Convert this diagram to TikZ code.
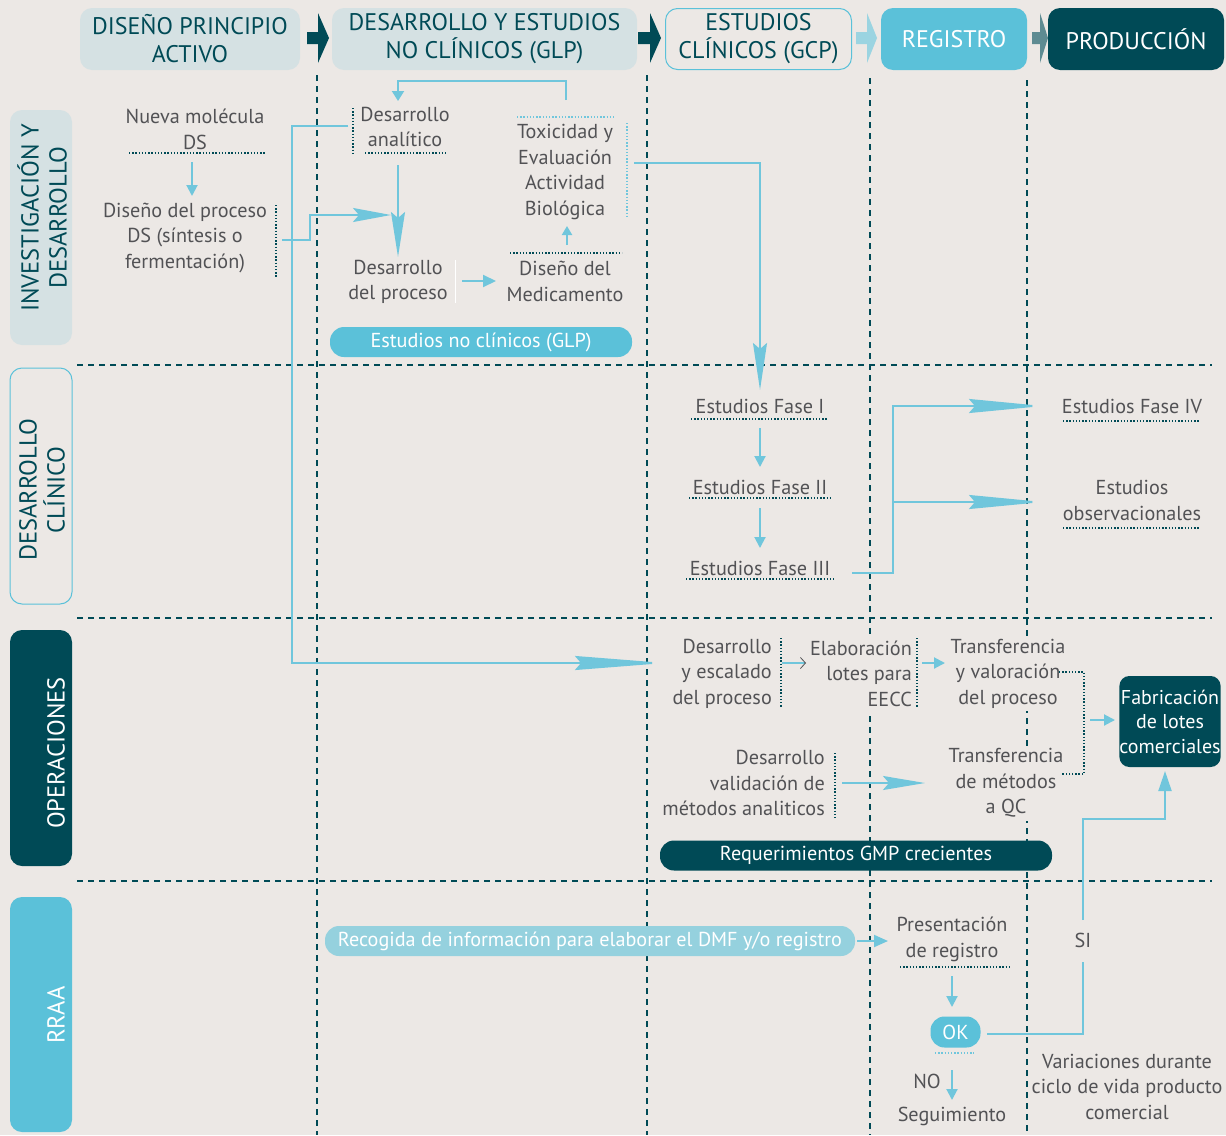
\documentclass[tikz,border=0pt]{standalone}
\usepackage{fontspec}
\setmainfont{PT Sans}
\usetikzlibrary{arrows.meta}
\definecolor{bgc}{RGB}{236,232,229}
\definecolor{dteal}{RGB}{0,74,86}
\definecolor{lblue}{RGB}{91,193,217}
\definecolor{lnblue}{RGB}{112,198,220}
\definecolor{hdrfill}{RGB}{213,225,227}
\definecolor{txtgray}{RGB}{82,82,85}
\definecolor{paleblue}{RGB}{149,209,222}
\definecolor{arrthree}{RGB}{155,212,225}
\definecolor{arrfour}{RGB}{94,139,146}
\newcommand\fbody{\fontsize{20.2}{25.5}\selectfont}
\newcommand\fhdr{\fontsize{24}{28}\selectfont}
\newcommand\flab{\fontsize{24.5}{28}\selectfont}
\newcommand\hdrarrow[4]{\fill[#2] (#1,32) -- ++(#3,0) -- ++(0,-19) -- ++(#4,25) -- ++(-#4,25) -- ++(0,-19) -- ++(-#3,0) -- cycle;}
\begin{document}
\begin{tikzpicture}[x=1pt,y=-1pt,
 txt/.style={text=txtgray,font=\fbody,align=center,inner sep=0pt},
 hdr/.style={rounded corners=12pt,minimum height=62pt,inner sep=0pt,font=\fhdr,align=center},
 lab/.style={rounded corners=12pt,minimum width=62pt,inner sep=0pt},
 labtxt/.style={rotate=90,font=\flab,align=center,inner sep=0pt},
 pill/.style={rounded corners=14pt,inner sep=0pt,font=\fbody,text=white},
 grid/.style={dteal,line width=2.8pt,dash pattern=on 6pt off 5pt},
 dotl/.style={dteal,line width=1.1pt,dash pattern=on 1.4pt off 1.8pt},
 dotb/.style={lnblue,line width=1.1pt,dash pattern=on 1.4pt off 1.8pt},
 conn/.style={lnblue,line width=2pt},
 arr/.style={conn,-{Triangle[length=11pt,width=11pt]}},
 bigarr/.style={conn,-{Stealth[length=#1,width=14pt,inset=6pt]}},
 bigarr/.default=46pt
]
\fill[bgc] (0,0) rectangle (1226,1135);
\useasboundingbox (0,0) rectangle (1226,1135);

% grid lines
\draw[grid] (317,75) -- (317,1135);
\draw[grid] (647,75) -- (647,1135);
\draw[grid] (870,78) -- (870,1135);
\draw[grid] (1027,80) -- (1027,1135);
\draw[grid] (77,365) -- (1212,365);
\draw[grid] (77,618) -- (1212,618);
\draw[grid] (77,881) -- (1212,881);

% headers
\node[hdr,fill=hdrfill,text=dteal,minimum width=220pt] (h1) at (190,39) {DISEÑO PRINCIPIO\\ACTIVO};
\node[hdr,fill=hdrfill,text=dteal,minimum width=305pt] (h2) at (484.5,39) {DESARROLLO Y ESTUDIOS\\NO CLÍNICOS (GLP)};
\node[hdr,fill=bgc,draw=lblue,line width=1pt,text=dteal,minimum width=186pt,minimum height=61pt] (h3) at (758.5,39) {ESTUDIOS\\CLÍNICOS (GCP)};
\node[hdr,fill=lblue,text=white,minimum width=146pt] (h4) at (954,39) {REGISTRO};
\node[hdr,fill=dteal,text=white,minimum width=176pt] (h5) at (1136,39) {PRODUCCIÓN};
\hdrarrow{307}{dteal}{11}{11}
\hdrarrow{638}{dteal}{12}{11}
\hdrarrow{856}{arrthree}{11}{10}
\hdrarrow{1032}{arrfour}{8}{8}

% lane labels
\node[lab,fill=hdrfill,minimum height=235pt] (l1) at (41,227.5) {};
\node[labtxt,text=dteal] (l1t) at (42,218) {INVESTIGACIÓN Y\\DESARROLLO};
\node[lab,draw=lblue,line width=1pt,fill=bgc,minimum height=236pt] (l2) at (41,486) {};
\node[labtxt,text=dteal] (l2t) at (42,490) {DESARROLLO\\CLÍNICO};
\node[lab,fill=dteal,minimum height=236pt] (l3) at (41,748) {};
\node[labtxt,text=white] (l3t) at (56,753) {OPERACIONES};
\node[lab,fill=lblue,minimum height=235pt] (l4) at (41,1014.5) {};
\node[labtxt,text=white] (l4t) at (56,1015) {RRAA};

% I+D nodes
\node[txt] (nueva) at (195,129.5) {Nueva molécula\\DS};
\node[txt] (disds) at (185,238) {Diseño del proceso\\DS (síntesis o\\fermentación)};
\node[txt] (danal) at (405,127) {Desarrollo\\analítico};
\node[txt] (dproc) at (398,282) {Desarrollo\\del proceso};
\node[txt] (dmed) at (565,281.5) {Diseño del\\Medicamento};
\node[txt] (tox) at (565,172) {Toxicidad y\\Evaluación\\Actividad\\Biológica};
\node[pill,fill=lblue,minimum width=302pt,minimum height=30pt] (glp) at (481,342) {Estudios no clínicos (GLP)};

% clinical
\node[txt] (f1) at (760,406) {Estudios Fase I};
\node[txt] (f2) at (760,487) {Estudios Fase II};
\node[txt] (f3) at (760,568) {Estudios Fase III};
\node[txt] (f4) at (1132,406) {Estudios Fase IV};
\node[txt] (fobs) at (1132,500.5) {Estudios\\observacionales};

% operations
\node[txt,align=right,anchor=east] (desc) at (772,673.5) {Desarrollo\\y escalado\\del proceso};
\node[txt,align=right,anchor=east,fill=bgc,inner ysep=6pt] (elab) at (912,673.5) {Elaboración\\lotes para\\EECC};
\node[txt,fill=bgc,inner sep=3pt] (trval) at (1008,673.5) {Transferencia\\y valoración\\del proceso};
\node[pill,fill=dteal,rounded corners=10pt,minimum width=100pt,minimum height=91pt,font=\fontsize{20}{24.5}\selectfont,align=center] (fab) at (1170,721.5) {Fabricación\\de lotes\\comerciales};
\node[txt,align=right,anchor=east] (dval) at (825,783) {Desarrollo\\validación de\\métodos analiticos};
\node[txt,fill=bgc,inner sep=3pt] (trmet) at (1006,783) {Transferencia\\de métodos\\a QC};
\node[pill,fill=dteal,minimum width=392pt,minimum height=30pt] (gmp) at (856,855.5) {Requerimientos GMP crecientes};

% RRAA
\node[pill,fill=paleblue,minimum width=530pt,minimum height=30pt] (recog) at (590,941) {Recogida de información para elaborar el DMF y/o registro};
\node[txt] (pres) at (952,939.5) {Presentación\\de registro};
\node[pill,fill=lblue,minimum width=50pt,minimum height=31pt] (ok) at (955.5,1032) {OK};
\node[txt] (no) at (927,1081) {NO};
\node[txt] (seg) at (952,1116) {Seguimiento};
\node[txt] (si) at (1083,940) {SI};
\node[txt] (var) at (1127,1086.5) {Variaciones durante\\ciclo de vida producto\\comercial};

% connector end points
\coordinate (nueva-o) at (192,162);
\coordinate (disds-i) at (192,196);
\coordinate (disds-o) at (282,240);
\coordinate (dproc-w) at (391,215);
\coordinate (danal-s) at (398,165);
\coordinate (dproc-n) at (398,257);
\coordinate (danal-w) at (348,126);
\coordinate (desc-w) at (665,663);
\coordinate (dproc-e) at (462,281);
\coordinate (dmed-w) at (496,281);
\coordinate (dmed-n) at (567,245);
\coordinate (tox-s) at (567,226);
\coordinate (tox-n) at (566,100);
\coordinate (danal-n) at (398,101);
\coordinate (tox-e) at (634,163);
\coordinate (f1-n) at (760,390);
\coordinate (f1-s) at (760,428);
\coordinate (f2-n) at (760,467);
\coordinate (f2-s) at (760,508);
\coordinate (f3-n) at (760,548);
\coordinate (f3-e) at (852,573);
\coordinate (split) at (893,502);
\coordinate (f4-w) at (1043,406);
\coordinate (fobs-w) at (1043,502);
\coordinate (desc-e) at (782,663);
\coordinate (elab-w) at (806,663);
\coordinate (elab-e) at (922,663);
\coordinate (trval-w) at (945,663);
\coordinate (br-a) at (1059,672);
\coordinate (br-b) at (1061,774);
\coordinate (br-m) at (1090,720);
\coordinate (fab-w) at (1115,720);
\coordinate (dval-e) at (842,783);
\coordinate (trmet-w) at (925,783);
\coordinate (recog-e) at (857,941);
\coordinate (pres-w) at (888,941);
\coordinate (pres-s) at (952,976);
\coordinate (ok-n) at (952,1007);
\coordinate (ok-s) at (952,1070);
\coordinate (seg-n) at (952,1100);
\coordinate (ok-e) at (987,1034);
\coordinate (si-s) at (1083,962);
\coordinate (si-n) at (1083,920);
\coordinate (fab-s) at (1165,771);

% connectors
\draw[arr] (nueva-o) -- (disds-i);
\draw[bigarr=38pt] (disds-o) -- ++(28,0) |- (dproc-w);
\draw[bigarr=45pt] (danal-s) -- (dproc-n);
\draw[bigarr=90pt] (danal-w) -- (292,126) |- (desc-w);
\draw[arr,-{Triangle[length=13pt,width=12pt]}] (dproc-e) -- (dmed-w);
\draw[arr,-{Triangle[length=9pt,width=10pt]}] (dmed-n) -- (tox-s);
\draw[arr,-{Triangle[length=10pt,width=12pt]}] (tox-n) -- (566,81) -| (danal-n);
\draw[bigarr=47pt] (tox-e) -| (f1-n);
\draw[arr] (f1-s) -- (f2-n);
\draw[arr] (f2-s) -- (f3-n);
\draw[bigarr=74pt] (f3-e) -| (split) |- (f4-w);
\draw[bigarr=74pt] (split) -- (fobs-w);
\draw[conn,-{Straight Barb[length=5pt,width=11pt,line width=0.8pt,color=txtgray]}] (desc-e) -- (elab-w);
\draw[arr] (elab-e) -- (trval-w);
\draw[dotl] (br-a) -| (1084,720) |- (br-b);
\draw[arr] (br-m) -- (fab-w);
\draw[bigarr=42pt] (dval-e) -- (trmet-w);
\draw[arr,-{Triangle[length=14pt,width=12pt]}] (recog-e) -- (pres-w);
\draw[arr] (pres-s) -- (ok-n);
\draw[arr] (ok-s) -- (seg-n);
\draw[conn] (ok-e) -| (si-s);
\draw[arr,-{Triangle[length=20pt,width=13pt]}] (si-n) |- (1120,819) -| (fab-s);

% dotted rules
\draw[dotl] (129,153) -- (266,153);
\draw[dotl] (276,205) -- (276,277);
\draw[dotl] (353,108) -- (353,153);
\draw[dotl] (365,153) -- (448,153);
\draw[white,line width=1pt] (455,260) -- (455,303);
\draw[dotl] (510,253) -- (622,253);
\draw[dotb] (517,117) -- (616,117);
\draw[dotb] (627,123) -- (627,218);
\draw[dotl] (691,419) -- (828,419);
\draw[dotl] (689,498) -- (831,498);
\draw[dotl] (686,579) -- (834,579);
\draw[dotl] (1063,421) -- (1200,421);
\draw[dotl] (1063,528) -- (1200,528);
\draw[dotl] (781,638) -- (781,707);
\draw[dotl] (917,638) -- (917,707);
\draw[dotl] (835,753) -- (835,820);
\draw[dotl] (900,967) -- (1010,967);
\draw[dotb] (935,1053) -- (974,1053);
\end{tikzpicture}
\end{document}
